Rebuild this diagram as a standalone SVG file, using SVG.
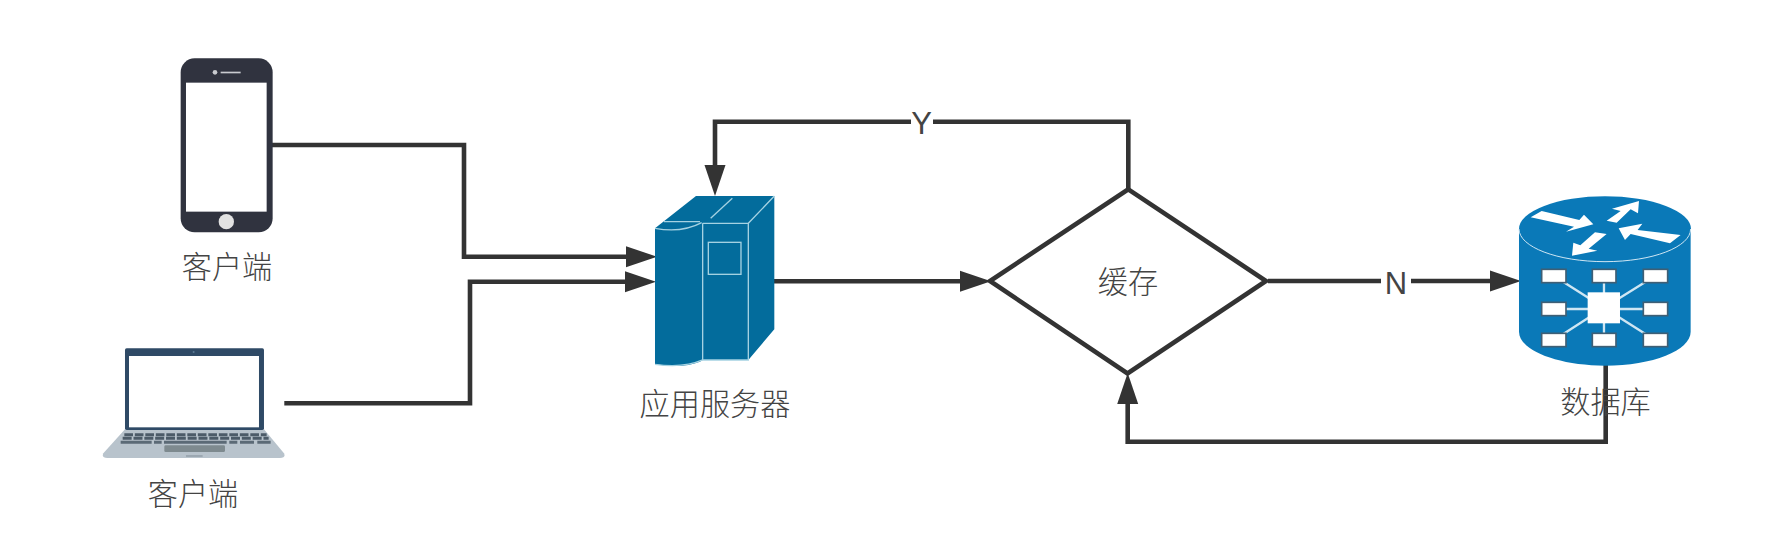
<svg xmlns="http://www.w3.org/2000/svg" width="1786" height="551" viewBox="0 0 1786 551">
<style>
.t{font-family:"Noto Sans CJK SC","Liberation Sans",sans-serif;font-size:30.2px;fill:#444;text-anchor:middle;font-weight:300}
.l{font-family:"Liberation Sans",sans-serif;font-size:31px;fill:#444;text-anchor:middle}
.c{fill:none;stroke:#333;stroke-width:4.6;stroke-linejoin:miter;marker-end:url(#a)}
.sl{fill:none;stroke:#a5d2e2;stroke-width:4}
.db{fill:#fff;stroke:#3f5f75;stroke-width:5}
.dl{fill:none;stroke:#cfe6f3;stroke-width:7}
</style>
<defs>
<marker id="a" markerUnits="userSpaceOnUse" markerWidth="32" markerHeight="22" viewBox="0 0 32 22" refX="3" refY="11" orient="auto"><path d="M0 .5 L31 11 L0 21.5Z" fill="#333"/></marker>
</defs>
<rect width="1786" height="551" fill="#fff"/>

<g id="connectors">
<path class="c" d="M272 145H464V256.7H629"/>
<path class="c" d="M284.3 403.3H470V281.7H628"/>
<path class="c" d="M774 281.3H963"/>
<path class="c" d="M1128.3 189V121.7H715V168"/>
<path class="c" d="M1268 281H1493"/>
<path class="c" d="M1605.7 365V441.7H1127.7V401"/>
</g>

<g id="phone">
<g transform="translate(80 30) scale(.3333)">
<rect x="302" y="85" width="276" height="522" rx="42" fill="#30333f"/>
<rect x="318" y="158" width="242" height="387" fill="#fff"/>
<circle cx="405" cy="127" r="7" fill="#c9cbd0"/>
<rect x="422" y="125" width="60" height="5" fill="#c9cbd0"/>
<circle cx="439" cy="575" r="23" fill="#e2e2e2"/>
</g>
<text class="t" x="227" y="278">客户端</text>
</g>

<g id="laptop">
<g transform="translate(80 330) scale(.3333)">
<path d="M135 298H552L612 370Q618 384 600 384H82Q64 384 70 370Z" fill="#b8c3cc"/>
<rect x="135" y="55" width="417" height="245" rx="5" fill="#2f4a66"/>
<rect x="147" y="78" width="390" height="214" fill="#fff"/>
<circle cx="341" cy="66" r="3" fill="#5d7a94"/>
<path d="M133 314H560" fill="none" stroke="#4c5b68" stroke-width="9" stroke-dasharray="26 5.5"/>
<path d="M128 325H566" fill="none" stroke="#4c5b68" stroke-width="9" stroke-dasharray="27 5.5"/>
<path d="M122 337H215M222 337H245M252 337H440M448 337H472M480 337H522M532 337H572" fill="none" stroke="#5b6a76" stroke-width="9"/>
<rect x="253" y="346" width="182" height="20" rx="4" fill="#7e8a8f"/>
<rect x="318" y="376" width="50" height="4" fill="#8f9ba4"/>
</g>
<text class="t" x="193" y="505">客户端</text>
</g>

<g id="server">
<g transform="translate(620 170) scale(.3333)">
<path d="M105 175L228 78H463V478L385 570H248L240 575Q190 595 105 583Z" fill="#036c9c"/>
<path class="sl" d="M105 175Q185 190 245 158M132 155H240M248 160H385L463 78M385 160V570H248V160M248 160V570Q190 595 105 583"/>
<rect class="sl" x="265" y="217" width="98" height="96"/>
<path class="sl" d="M272 145L337 85"/>
</g>
<text class="t" x="715" y="415">应用服务器</text>
</g>

<g id="cache">
<polygon points="1128.3,189.3 1266,281 1127.5,373.5 990,281" fill="#fff" stroke="#333" stroke-width="4.6"/>
<text class="t" x="1128" y="293">缓存</text>
</g>

<g id="database">
<g transform="translate(1500 180) scale(.3333)">
<path d="M57 147V455C57 511 172 557 315 557S572 511 572 455V147Z" fill="#0a79b8"/>
<ellipse cx="315" cy="147" rx="258" ry="98" fill="#0a79b8"/>
<path d="M57 147C57 201 172 245 315 245S572 201 572 147" fill="none" stroke="#cfe6f3" stroke-width="3"/>
<path fill="#fff" d="M92 112L125 93L238 120L252 104L280 133L198 155L222 140Z"/>
<path fill="#fff" d="M320 122L362 93L336 86L417 63L414 100L392 88L350 128Z"/>
<path fill="#fff" d="M356 145L427 131L413 150L542 165L510 190L392 162L375 180Z"/>
<path fill="#fff" d="M216 227L220 188L241 196L285 157L320 162L266 206L292 212Z"/>
<path class="dl" d="M162 288L312 383M312 288V480M465 288L312 383M162 387H465M162 480L312 383M465 480L312 383"/>
<rect class="db" x="125" y="268" width="73" height="40"/>
<rect class="db" x="277" y="268" width="71" height="40"/>
<rect class="db" x="430" y="268" width="73" height="40"/>
<rect class="db" x="125" y="367" width="73" height="40"/>
<rect class="db" x="430" y="367" width="73" height="40"/>
<rect class="db" x="125" y="460" width="73" height="40"/>
<rect class="db" x="277" y="460" width="71" height="40"/>
<rect class="db" x="430" y="460" width="73" height="40"/>
<rect x="263" y="337" width="97" height="93" fill="#fff"/>
</g>
<text class="t" x="1605.5" y="413">数据库</text>
</g>

<g id="label-y">
<rect x="911" y="108" width="22" height="28" fill="#fff"/>
<text class="l" x="921.7" y="134">Y</text>
</g>
<g id="label-n">
<rect x="1381" y="268" width="30" height="28" fill="#fff"/>
<text class="l" x="1396" y="294">N</text>
</g>
</svg>
